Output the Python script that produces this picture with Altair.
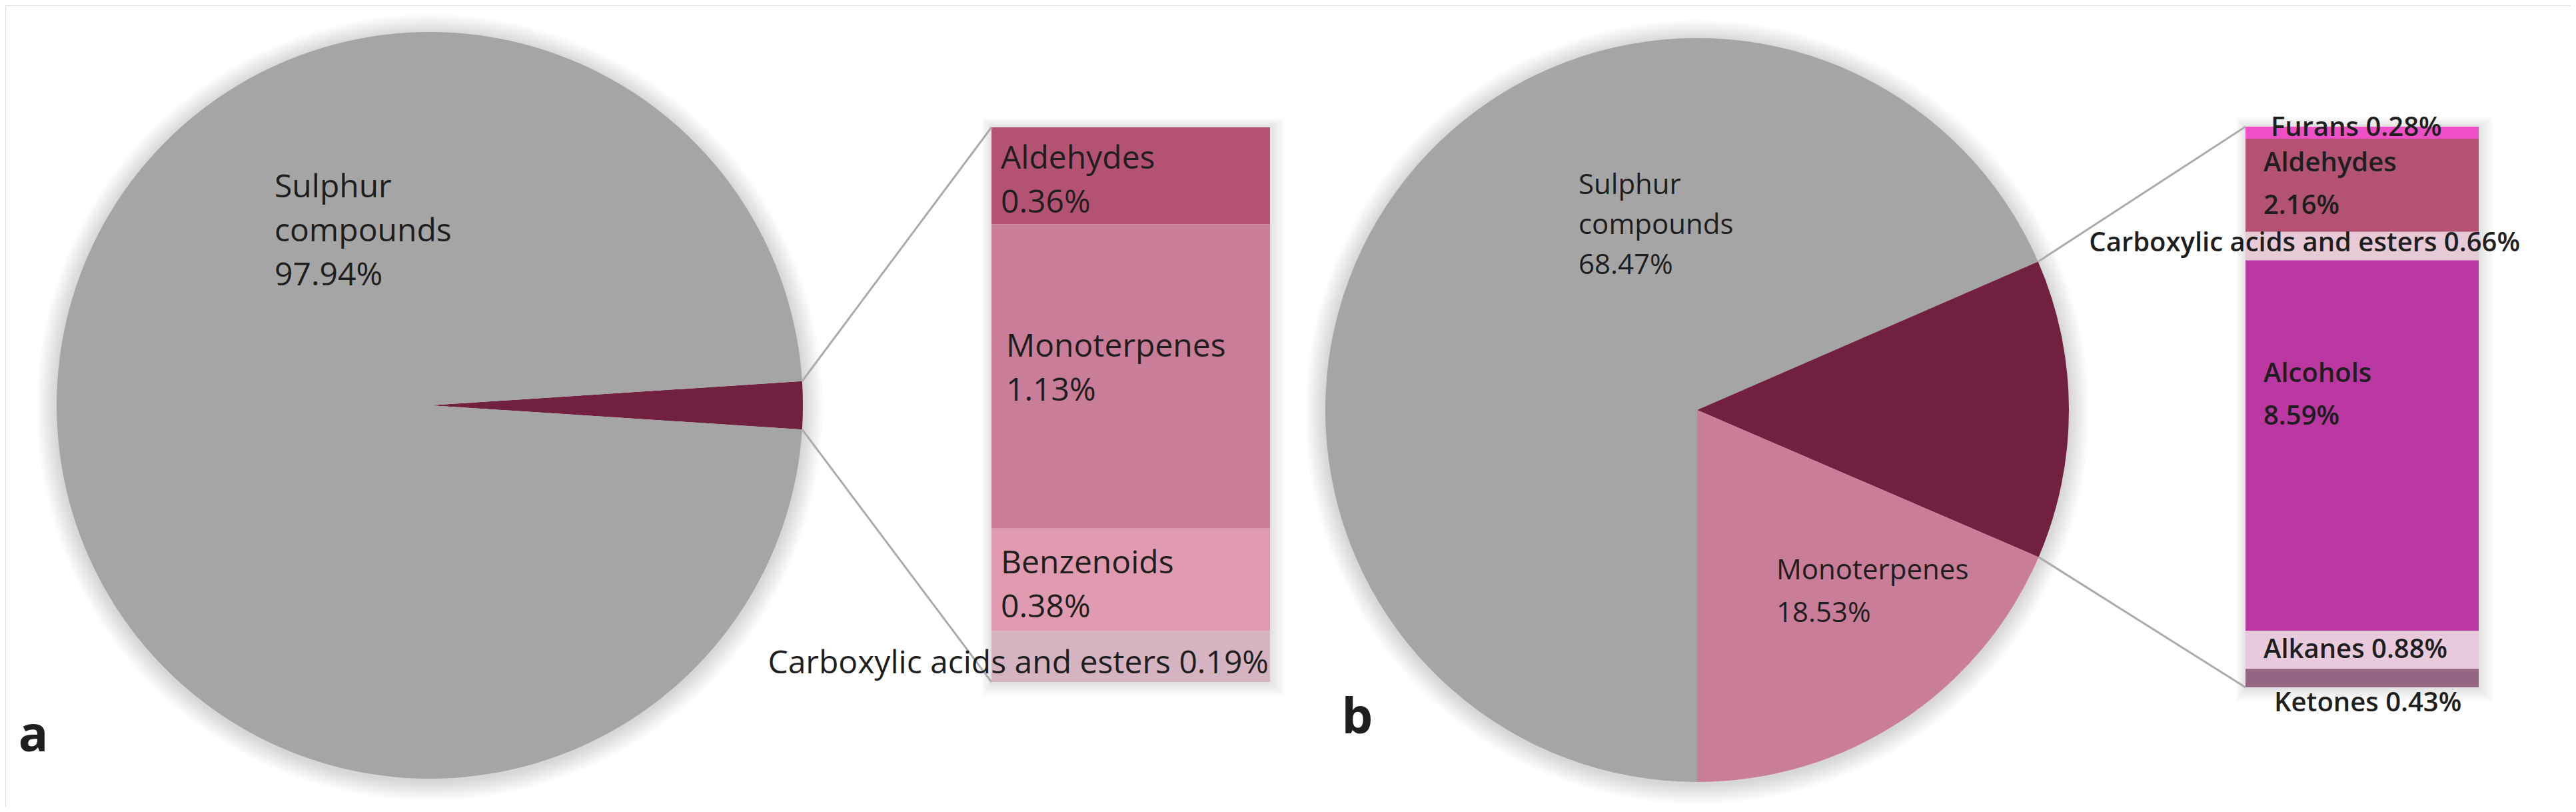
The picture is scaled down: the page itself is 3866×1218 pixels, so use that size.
import math
import altair as alt
import pandas as pd

# ---------------- data ----------------
a_pie_cats = ["Other", "Sulphur compounds"]
a_pie_vals = [2.06, 97.94]
a_bar_cats = ["Aldehydes", "Monoterpenes", "Benzenoids", "Carboxylic acids and esters"]
a_bar_vals = [0.36, 1.13, 0.38, 0.19]

b_pie_cats = ["Sulphur compounds", "Other", "Monoterpenes"]
b_pie_vals = [68.47, 13.00, 18.53]
b_bar_cats = ["Furans", "Aldehydes", "Carboxylic acids and esters", "Alcohols", "Alkanes", "Ketones"]
b_bar_vals = [0.28, 2.16, 0.66, 8.59, 0.88, 0.43]

# ---------------- styles ----------------
a_pie_colors = ["#722040", "#A5A5A5"]
a_bar_colors = ["#B35273", "#CA7D99", "#E09BB0", "#D6B3C1"]
b_pie_colors = ["#A5A5A5", "#722040", "#CA7D99"]
b_bar_colors = ["#EE4FC6", "#B35273", "#E8C9D6", "#BB37A2", "#E9CADD", "#976584"]

W, H = 3850, 1202
M = 8  # page margin
FONT = "Open Sans"
TXT = "#1E1E1E"
LINE = "#ABABAB"

# layout (screenshot pixel coords)
PA = dict(cx=645, cy=608, r=560)
BA = dict(l=1488, r=1906, t=191, b=1023)
PB = dict(cx=2547, cy=615, r=558)
BB = dict(l=3370, r=3720, t=190, b=1031)

layers = []


def pie_shadow(p):
    out = []
    for k in range(1, 11):
        out.append(
            alt.Chart(pd.DataFrame({"k": [k]}))
            .mark_arc(theta=0, theta2=2 * math.pi, radius=p["r"] + 3 * k,
                      color="#000000", opacity=0.014)
            .encode(x=alt.value(p["cx"] - M), y=alt.value(p["cy"] - M + 3))
        )
    return out


def bar_shadow(bb):
    out = []
    for k in range(1, 8):
        out.append(
            alt.Chart(pd.DataFrame({"k": [k]}))
            .mark_rect(color="#000000", opacity=0.015)
            .encode(x=alt.value(bb["l"] - M - 2 * k), x2=alt.value(bb["r"] - M + 3 * k),
                    y=alt.value(bb["t"] - M - 2 * k), y2=alt.value(bb["b"] - M + 3 * k))
        )
    return out


def pie_layer(cats, vals, colors, p, start):
    df = pd.DataFrame({"cat": cats, "value": vals, "color": colors, "idx": list(range(len(cats)))})
    return (
        alt.Chart(df)
        .mark_arc(radius=p["r"])
        .encode(
            theta=alt.Theta("value:Q", stack=True,
                            scale=alt.Scale(domain=[0, sum(vals)], range=[start, start + 2 * math.pi])),
            color=alt.Color("color:N", scale=None, legend=None),
            order=alt.Order("idx:Q"),
            x=alt.value(p["cx"] - M),
            y=alt.value(p["cy"] - M),
        )
    )


def bar_table(cats, vals, colors):
    y0, y1, mid = [], [], []
    acc = 0.0
    for v in vals:
        y0.append(acc)
        acc += v
        y1.append(acc)
        mid.append(acc - v / 2)
    return pd.DataFrame({"cat": cats, "value": vals, "color": colors,
                         "y0": y0, "y1": y1, "mid": mid})


def bar_scale(vals, bb):
    return alt.Scale(domain=[0, sum(vals)], range=[bb["t"] - M, bb["b"] - M], nice=False, zero=False)


def bar_layer(df, vals, bb):
    sc = bar_scale(vals, bb)
    return (
        alt.Chart(df)
        .mark_rect()
        .encode(
            x=alt.value(bb["l"] - M), x2=alt.value(bb["r"] - M),
            y=alt.Y("y0:Q", scale=sc, axis=None), y2="y1:Q",
            color=alt.Color("color:N", scale=None, legend=None),
        )
    )


def pct(v):
    return f"{v:.2f}%"


def bar_label(df, vals, bb, cat, text, x, size, align="left", dy=0, weight="normal", lh=None):
    sub = df[df["cat"] == cat].copy()
    sub["label"] = text
    return (
        alt.Chart(sub)
        .mark_text(align=align, baseline="middle", font=FONT, fontSize=size, color=TXT,
                   lineBreak="\n", lineHeight=lh or size * 1.38, dy=dy, fontWeight=weight)
        .encode(x=alt.value(x - M), y=alt.Y("mid:Q", scale=bar_scale(vals, bb), axis=None),
                text="label:N")
    )


def free_label(text, x, y, size, align="left", weight="normal", lh=None):
    # y is the centre of the first line
    return (
        alt.Chart(pd.DataFrame({"label": [text]}))
        .mark_text(align=align, baseline="middle", font=FONT, fontSize=size, color=TXT,
                   lineBreak="\n", lineHeight=lh or size * 1.4, fontWeight=weight)
        .encode(x=alt.value(x - M), y=alt.value(y - M), text="label:N")
    )


def arc_point(p, theta):
    return (p["cx"] + p["r"] * math.sin(theta), p["cy"] - p["r"] * math.cos(theta))


def connector(p0, p1):
    return (
        alt.Chart(pd.DataFrame({"k": [0]}))
        .mark_rule(color=LINE, strokeWidth=3)
        .encode(x=alt.value(p0[0] - M), y=alt.value(p0[1] - M),
                x2=alt.value(p1[0] - M), y2=alt.value(p1[1] - M))
    )


# ---------------- panel a ----------------
a_other = a_pie_vals[0] / sum(a_pie_vals)
a_start = math.pi / 2 - a_other * math.pi
layers += pie_shadow(PA)
layers.append(pie_layer(a_pie_cats, a_pie_vals, a_pie_colors, PA, a_start))
layers += bar_shadow(BA)
dfa = bar_table(a_bar_cats, a_bar_vals, a_bar_colors)
layers.append(bar_layer(dfa, a_bar_vals, BA))

pa1 = arc_point(PA, a_start)
pa2 = arc_point(PA, a_start + 2 * math.pi * a_other)
layers.append(connector(pa1, (BA["l"], BA["t"])))
layers.append(connector(pa2, (BA["l"], BA["b"])))

FA = 48
LA = 66
layers.append(free_label(f"Sulphur\ncompounds\n{pct(a_pie_vals[1])}", 412, 282, FA, lh=LA))
layers.append(bar_label(dfa, a_bar_vals, BA, "Aldehydes", f"Aldehydes\n{pct(a_bar_vals[0])}",
                        BA["l"] + 14, FA, dy=-25, lh=LA))
layers.append(bar_label(dfa, a_bar_vals, BA, "Monoterpenes", f"Monoterpenes\n{pct(a_bar_vals[1])}",
                        BA["l"] + 22, FA, dy=-44, lh=LA))
layers.append(bar_label(dfa, a_bar_vals, BA, "Benzenoids", f"Benzenoids\n{pct(a_bar_vals[2])}",
                        BA["l"] + 14, FA, dy=-24, lh=LA))
layers.append(bar_label(dfa, a_bar_vals, BA, "Carboxylic acids and esters",
                        f"Carboxylic acids and esters {pct(a_bar_vals[3])}", BA["r"] - 2, FA,
                        align="right", dy=11))
layers.append(free_label("a", 50, 1105, 74, align="center", weight="bold"))

# ---------------- panel b ----------------
b_start = math.pi
layers += pie_shadow(PB)
layers.append(pie_layer(b_pie_cats, b_pie_vals, b_pie_colors, PB, b_start))
layers += bar_shadow(BB)
dfb = bar_table(b_bar_cats, b_bar_vals, b_bar_colors)
layers.append(bar_layer(dfb, b_bar_vals, BB))

tot_b = sum(b_pie_vals)
t1 = b_start + 2 * math.pi * b_pie_vals[0] / tot_b
t2 = t1 + 2 * math.pi * b_pie_vals[1] / tot_b
layers.append(connector(arc_point(PB, t1), (BB["l"], BB["t"])))
layers.append(connector(arc_point(PB, t2), (BB["l"], BB["b"])))

FB = 42
FBB = 40
LB = 64
layers.append(free_label(f"Sulphur\ncompounds\n{pct(b_pie_vals[0])}", 2369, 278, FB, lh=60))
layers.append(free_label(f"Monoterpenes\n{pct(b_pie_vals[2])}", 2666, 856, FB, lh=64))
layers.append(bar_label(dfb, b_bar_vals, BB, "Furans", f"Furans {pct(b_bar_vals[0])}",
                        BB["l"] + 38, FBB, dy=-7, weight=600))
layers.append(bar_label(dfb, b_bar_vals, BB, "Aldehydes", f"Aldehydes\n{pct(b_bar_vals[1])}",
                        BB["l"] + 27, FBB, dy=-33, weight=600, lh=LB))
layers.append(bar_label(dfb, b_bar_vals, BB, "Carboxylic acids and esters",
                        f"Carboxylic acids and esters  {pct(b_bar_vals[2])}", BB["r"] + 62, FBB,
                        align="right", dy=-4, weight=600))
layers.append(bar_label(dfb, b_bar_vals, BB, "Alcohols", f"Alcohols\n{pct(b_bar_vals[3])}",
                        BB["l"] + 27, FBB, dy=-107, weight=600, lh=LB))
layers.append(bar_label(dfb, b_bar_vals, BB, "Alkanes", f"Alkanes  {pct(b_bar_vals[4])}",
                        BB["l"] + 27, FBB, weight=600))
layers.append(bar_label(dfb, b_bar_vals, BB, "Ketones", f"Ketones {pct(b_bar_vals[5])}",
                        BB["l"] + 43, FBB, dy=38, weight=600))
layers.append(free_label("b", 2037, 1078, 74, align="center", weight="bold"))

chart = (
    alt.layer(*layers)
    .resolve_scale(theta="independent", y="independent")
    .properties(width=W, height=H, padding=0, autosize=alt.AutoSizeParams(type="none"))
    .configure_view(stroke="transparent", strokeWidth=0)
    .configure(background="white")
)

chart.save("out.html", embed_options={"renderer": "svg", "actions": False})
